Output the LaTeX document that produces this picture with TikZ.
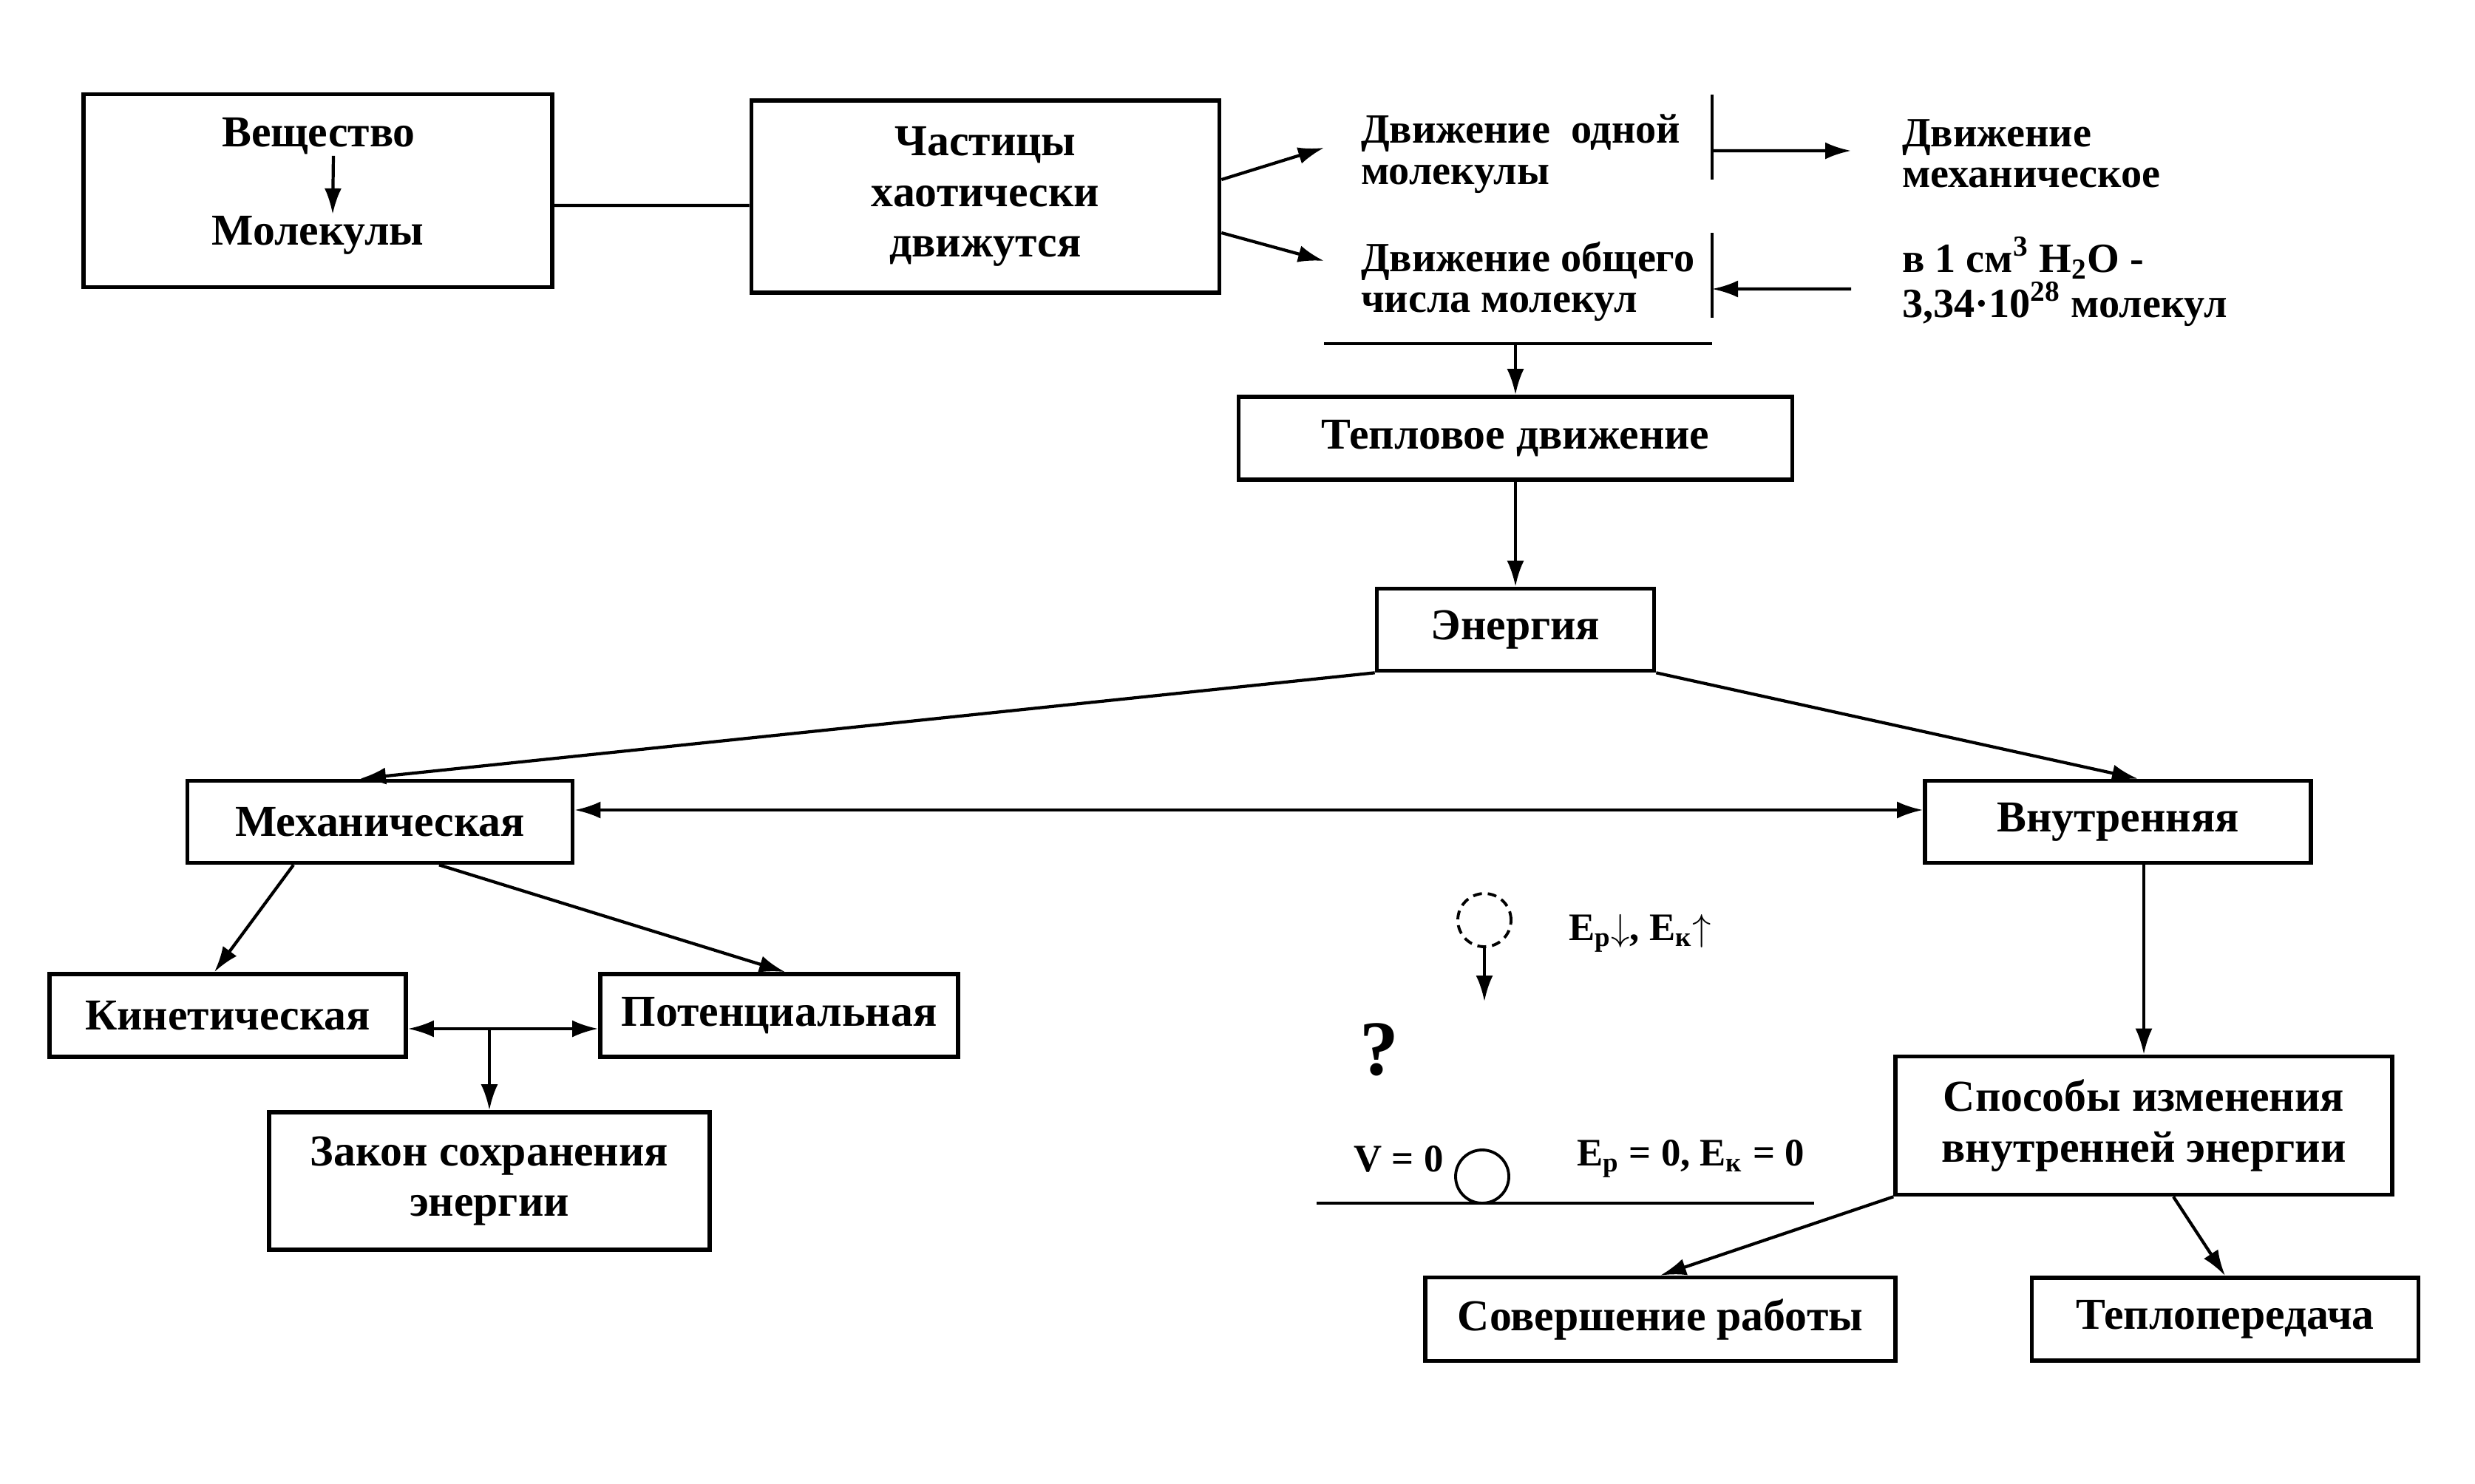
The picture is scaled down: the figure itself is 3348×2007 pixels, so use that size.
\documentclass[tikz,border=0pt]{standalone}
\usepackage{fontspec}
\setmainfont{Liberation Serif}
\usetikzlibrary{arrows.meta}
\tikzstyle{blok}=[draw, line width=1.6pt, align=center, inner sep=0pt, font=\bfseries\fontsize{17}{19.5}\selectfont]
\newcommand{\blok}{\node[blok]}
\tikzstyle{nadpis}=[inner sep=0pt, align=left, font=\bfseries\fontsize{16}{15.8}\selectfont]
\newcommand{\nadpis}{\node[nadpis]}
\tikzstyle{shar}=[circle, draw, inner sep=0pt, minimum size=7.2mm, line width=1.1pt]

\begin{document}
\begin{tikzpicture}[x=0.1mm, y=-0.1mm, line width=1.2pt, >={Latex[length=3.5mm,width=2.3mm]}]
            \useasboundingbox (0,0) rectangle (3348,2007);
            \blok[minimum width=63.4mm, minimum height=26.1mm] (veshbox) at (430,258) {};
            \nadpis[font=\bfseries\fontsize{17}{19.5}\selectfont] (vesh) at (431,184) {Вещество};
            \nadpis[font=\bfseries\fontsize{17}{19.5}\selectfont] (mol) at (430,318) {Молекулы};
            \blok[minimum width=63.3mm, minimum height=26mm] (chast) at (1333,266) {Частицы\\хаотически\\движутся};
            \nadpis[anchor=west] (odna) at (1839,208) {Движение\ \ одной\\молекулы};
            \nadpis[anchor=west] (obshch) at (1839,381) {Движение общего\\числа молекул};
            \nadpis[anchor=west] (mekh) at (2571,208) {Движение\\механическое};
            \nadpis[anchor=west] (voda) at (2571,381) {в 1 см\textsuperscript{3} H\textsubscript{2}O -\\3,34·10\textsuperscript{28} молекул};
            \coordinate (cherta1) at (2316,204);
            \coordinate (cherta2) at (2316,391);
            \coordinate (cherta3) at (2050,465);
            \draw (2316,128) -- (2316,243);
            \draw (2316,315) -- (2316,430);
            \draw (1791,465) -- (2316,465);
            \blok[minimum width=74.9mm, minimum height=11.2mm] (teplo) at (2050,593) {Тепловое движение};
            \blok[minimum width=37.5mm, minimum height=11.1mm] (energ) at (2050,852) {Энергия};
            \blok[minimum width=52.1mm, minimum height=11.1mm] (mekhan) at (514,1112) {Механическая};
            \blok[minimum width=52.2mm, minimum height=11.1mm] (vnutr) at (2865,1112) {Внутренняя};
            \blok[minimum width=48.2mm, minimum height=11.2mm] (kinet) at (308,1374) {Кинетическая};
            \blok[minimum width=48.4mm, minimum height=11.2mm] (potenc) at (1054,1374) {Потенциальная};
            \blok[minimum width=59.6mm, minimum height=18.6mm] (zakon) at (662,1598) {Закон сохранения\\энергии};
            \blok[minimum width=67.2mm, minimum height=18.7mm] (sposob) at (2900,1523) {Способы изменения\\внутренней энергии};
            \blok[minimum width=63.6mm, minimum height=11.3mm] (sovers) at (2246,1785) {Совершение работы};
            \blok[minimum width=52.3mm, minimum height=11.2mm] (teplop) at (3010,1785) {Теплопередача};
            \node[shar, dashed, dash pattern=on 1.2mm off 0.8mm] (shar1) at (2008,1245) {};
            \coordinate (padenie) at (2008,1355);
            \nadpis[anchor=west, font=\bfseries\fontsize{15}{16}\selectfont] (epek) at (2120,1263) {E\textsubscript{р}$\downarrow$, E\textsubscript{к}$\uparrow$};
            \node[font=\bfseries\fontsize{30}{30}\selectfont, inner sep=0pt] (vopros) at (1866,1420) {?};
            \nadpis[font=\bfseries\fontsize{15}{16}\selectfont] (v0) at (1892,1568) {V = 0};
            \node[shar] (shar2) at (2005,1592) {};
            \nadpis[font=\bfseries\fontsize{15}{16}\selectfont] (ep0) at (2287,1568) {E\textsubscript{р}\ =\ 0, E\textsubscript{к}\ =\ 0};
            \draw (1781,1628) -- (2454,1628);
            \draw ([yshift=-2mm]veshbox.east) -- ([yshift=-1.2mm]chast.west);
            \path[->]
                ([xshift=2mm]vesh.south) edge ([xshift=2mm]mol.north)
                ([yshift=2.3mm]chast.east) edge ([xshift=-4.8mm,yshift=0.8mm]odna.west)
                ([yshift=-4.9mm]chast.east) edge ([xshift=-4.8mm,yshift=2.8mm]obshch.west)
                (cherta1) edge ([xshift=-6.7mm,yshift=0.4mm]mekh.west)
                ([xshift=-6.7mm,yshift=-1mm]voda.west) edge (cherta2)
                (cherta3) edge (teplo.north)
                (teplo) edge (energ)
                (energ.south west) edge ([xshift=-2.7mm]mekhan.north)
                (energ.south east) edge ([xshift=2.7mm]vnutr.north)
                ([yshift=1.6mm]mekhan.east) edge[<->] ([yshift=1.6mm]vnutr.west)
                ([xshift=-11.7mm]mekhan.south) edge ([xshift=-1.8mm]kinet.north)
                ([xshift=8mm]mekhan.south) edge ([xshift=0.8mm]potenc.north)
                ([yshift=-1.8mm]kinet.east) edge[<->] ([yshift=-1.8mm]potenc.west)
                ([yshift=-1.8mm]kinet.east -| zakon.north) edge (zakon.north)
                (vnutr.south -| sposob.north) edge (sposob.north)
                (sposob.south west) edge (sovers.north)
                ([xshift=4mm]sposob.south) edge (teplop.north)
                (shar1.south) edge (padenie)
            ;
\end{tikzpicture}
\end{document}
